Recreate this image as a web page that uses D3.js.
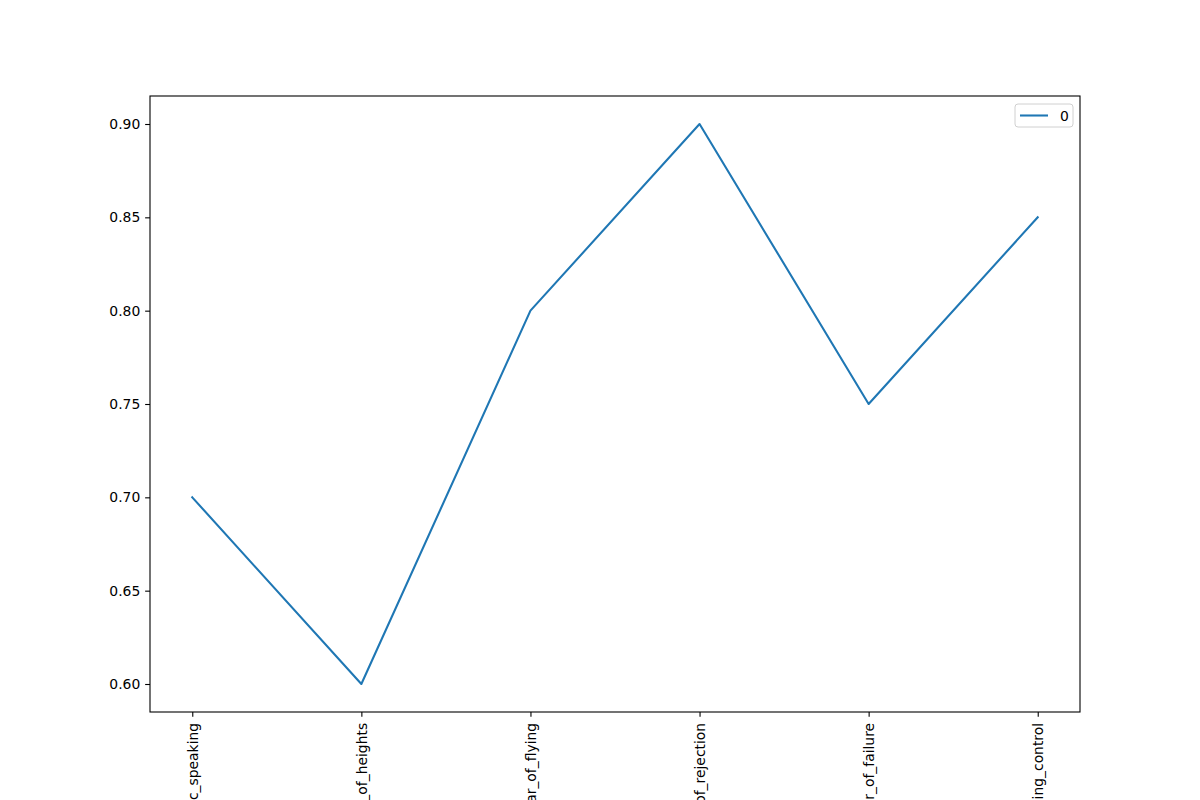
<!DOCTYPE html>
<html>
<head>
<meta charset="utf-8">
<script src="https://cdn.jsdelivr.net/npm/d3@7"></script>
<style>
  body { margin: 0; background: #fff; }
  svg { display: block; font-family: "DejaVu Sans", sans-serif; }
</style>
</head>
<body>
<div id="chart"></div>
<script>
const categories = ["public_speaking", "fear_of_heights", "fear_of_flying", "fear_of_rejection", "fear_of_failure", "losing_control"];
const values = [0.70, 0.60, 0.80, 0.90, 0.75, 0.85];
const yTicks = [0.60, 0.65, 0.70, 0.75, 0.80, 0.85, 0.90];
const seriesName = "0";

const width = 1200;
const height = 800;
const margin = { top: 96, right: 120, bottom: 88, left: 150 };
const innerW = width - margin.left - margin.right;
const innerH = height - margin.top - margin.bottom;

const svg = d3.select("#chart")
    .append("svg")
    .attr("width", width)
    .attr("height", height);

const g = svg.append("g")
    .attr("transform", `translate(${margin.left},${margin.top})`);

// matplotlib-like 5% margins
const n = categories.length;
const pad = (n - 1) * 0.05;
const xScale = d3.scaleLinear()
    .domain([-pad, n - 1 + pad])
    .range([0, innerW]);

const yMin = d3.min(values), yMax = d3.max(values);
const yPad = (yMax - yMin) * 0.05;
const yScale = d3.scaleLinear()
    .domain([yMin - yPad, yMax + yPad])
    .range([innerH, 0]);

const tickLen = 4.86;
const fontSize = "13.9px";

// y axis
const yAxis = g.append("g")
    .call(d3.axisLeft(yScale)
        .tickValues(yTicks)
        .tickFormat(d3.format(".2f"))
        .tickSize(tickLen)
        .tickPadding(4.86));
yAxis.select(".domain").remove();
yAxis.selectAll("line").attr("stroke", "#000").attr("stroke-width", 1.1);
yAxis.selectAll("text").attr("font-size", fontSize).attr("font-family", "DejaVu Sans").attr("fill", "#000");

// x axis, labels rotated and running off the bottom edge like the original
const xAxis = g.append("g")
    .attr("transform", `translate(0,${innerH})`)
    .call(d3.axisBottom(xScale)
        .tickValues(d3.range(n))
        .tickFormat(i => categories[i])
        .tickSize(tickLen)
        .tickPadding(4.86));
xAxis.select(".domain").remove();
xAxis.selectAll("line").attr("stroke", "#000").attr("stroke-width", 1.1);
xAxis.selectAll("text")
    .attr("font-size", fontSize)
    .attr("font-family", "DejaVu Sans")
    .attr("fill", "#000")
    .attr("y", 0)
    .attr("dy", null)
    .attr("transform", `translate(0,${tickLen + 6}) rotate(-90)`)
    .attr("text-anchor", "end")
    .attr("dominant-baseline", "central");

// line
const line = d3.line()
    .x((d, i) => xScale(i))
    .y(d => yScale(d));

g.append("path")
    .datum(values)
    .attr("fill", "none")
    .attr("stroke", "#1f77b4")
    .attr("stroke-width", 2.08)
    .attr("stroke-linejoin", "round")
    .attr("stroke-linecap", "square")
    .attr("d", line);

// frame
g.append("rect")
    .attr("width", innerW)
    .attr("height", innerH)
    .attr("fill", "none")
    .attr("stroke", "#000")
    .attr("stroke-width", 1.1);

// legend
const legend = g.append("g")
    .attr("transform", `translate(${innerW - 65},8)`);
legend.append("rect")
    .attr("width", 58)
    .attr("height", 23)
    .attr("rx", 3)
    .attr("fill", "#fff")
    .attr("fill-opacity", 0.8)
    .attr("stroke", "#d0d0d0")
    .attr("stroke-width", 1);
legend.append("line")
    .attr("x1", 5).attr("x2", 33)
    .attr("y1", 11.5).attr("y2", 11.5)
    .attr("stroke", "#1f77b4")
    .attr("stroke-width", 2.08);
legend.append("text")
    .attr("x", 45)
    .attr("y", 11.5)
    .attr("dominant-baseline", "central")
    .attr("font-size", fontSize)
    .attr("fill", "#000")
    .text(seriesName);
</script>
</body>
</html>
